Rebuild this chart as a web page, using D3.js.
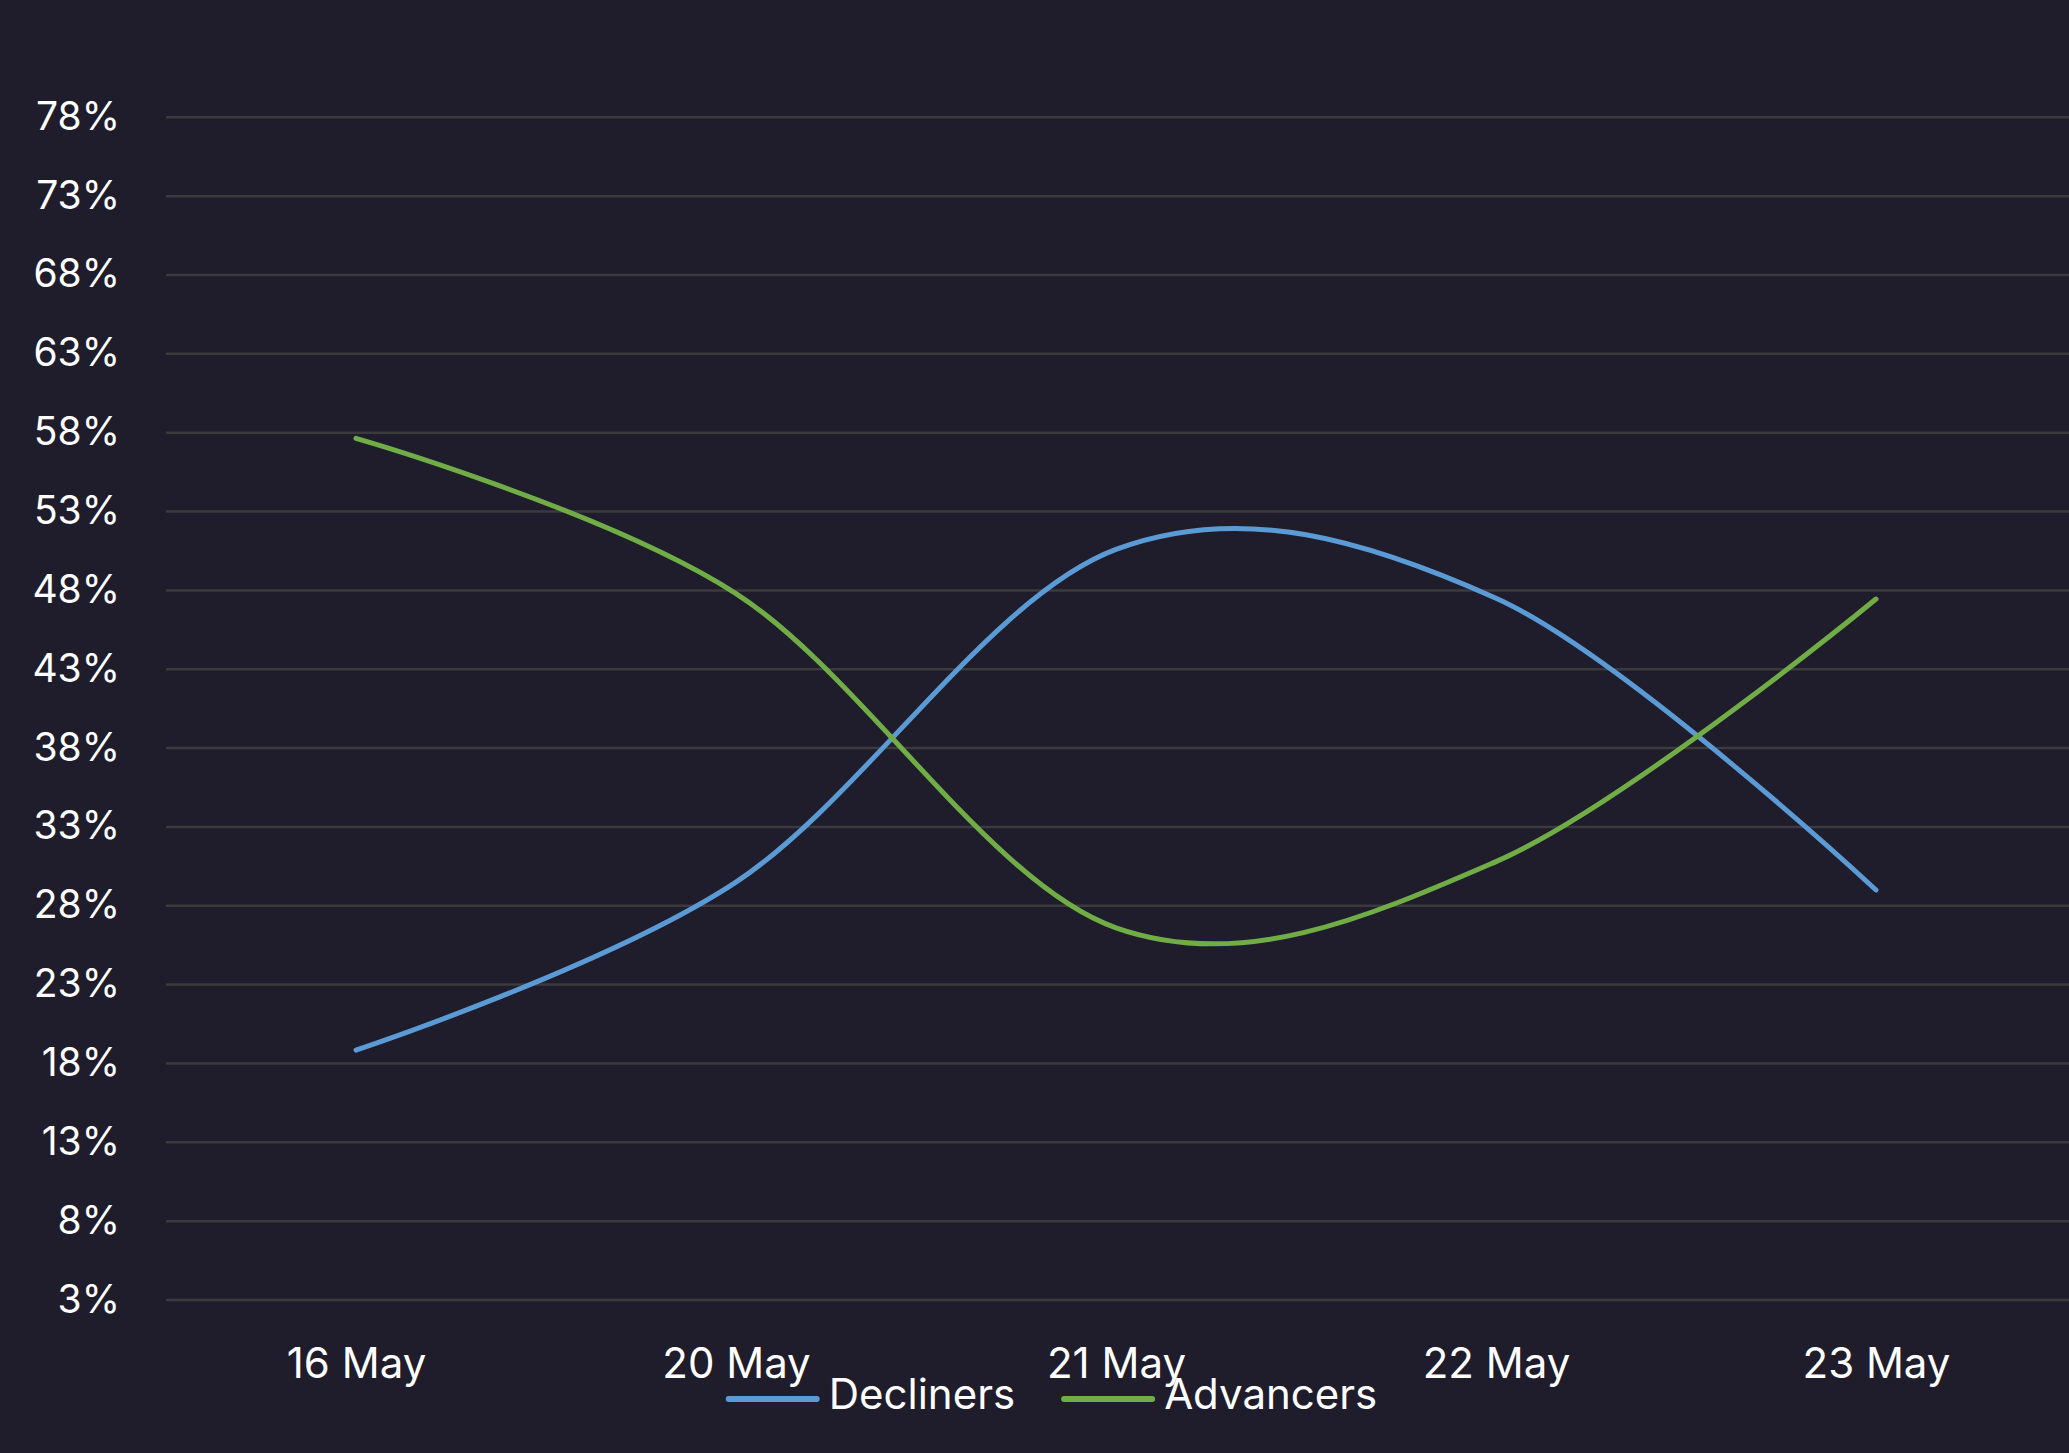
<!DOCTYPE html>
<html>
<head>
<meta charset="utf-8">
<script src="https://cdn.jsdelivr.net/npm/d3@7"></script>
<style>
  html, body { margin: 0; padding: 0; background: #1f1d2b; }
  svg { display: block; }
  text { font-family: Inter, "Open Sans", sans-serif; fill: #ffffff; }
</style>
</head>
<body>
<div id="chart"></div>
<script>
// data
const categories = ['16 May', '20 May', '21 May', '22 May', '23 May'];
const decliners = [18.85, 29.5, 50.6, 47.5, 29.0];
const advancers = [57.64, 47.8, 26.6, 30.8, 47.45];
const yTicks = [3, 8, 13, 18, 23, 28, 33, 38, 43, 48, 53, 58, 63, 68, 73, 78];
const seriesNames = ['Decliners', 'Advancers'];
const seriesColors = ['#5b9bd5', '#70ad47'];

const width = 2069;
const height = 1453;
const plotLeft = 166;
const plotRight = 2066;
const plotTop = 117.3;
const plotBottom = 1300;

const svg = d3.select('#chart')
    .append('svg')
    .attr('width', width)
    .attr('height', height);

svg.append('rect')
    .attr('width', width).attr('height', height)
    .attr('fill', '#1f1d2b');

const x = d3.scalePoint()
    .domain(categories)
    .range([plotLeft, plotRight])
    .padding(0.5);

const y = d3.scaleLinear()
    .domain([3, 78])
    .range([plotBottom, plotTop]);

// horizontal grid lines
const grid = svg.append('g').attr('class', 'grid');
grid.selectAll('line')
    .data(yTicks)
    .join('line')
    .attr('x1', plotLeft).attr('x2', width)
    .attr('y1', d => y(d)).attr('y2', d => y(d))
    .attr('stroke', '#3b3a3d')
    .attr('stroke-width', 2.5);

// y axis labels
const yAxis = svg.append('g')
    .attr('transform', `translate(${120},0)`)
    .call(d3.axisLeft(y).tickValues(yTicks).tickSize(0).tickPadding(0).tickFormat(d => d + '%'));
yAxis.select('.domain').remove();
yAxis.selectAll('text')
    .attr('font-size', 39)
    .attr('font-family', 'Inter, "Open Sans", sans-serif')
    .attr('fill', '#ffffff')
    .attr('dy', 12);

// x axis labels
const xAxis = svg.append('g')
    .attr('transform', `translate(0,${1378})`)
    .call(d3.axisBottom(x).tickSize(0).tickPadding(0));
xAxis.select('.domain').remove();
xAxis.selectAll('text')
    .attr('font-size', 42)
    .attr('font-family', 'Inter, "Open Sans", sans-serif')
    .attr('fill', '#ffffff')
    .attr('y', 0)
    .attr('dy', 0);

// lines
const line = d3.line()
    .x((d, i) => x(categories[i]))
    .y(d => y(d))
    .curve(d3.curveCardinal.tension(0));

[decliners, advancers].forEach((values, idx) => {
    svg.append('path')
        .datum(values)
        .attr('d', line)
        .attr('fill', 'none')
        .attr('stroke', seriesColors[idx])
        .attr('stroke-width', 5)
        .attr('stroke-linecap', 'round')
        .attr('stroke-linejoin', 'round');
});

// legend, centred under the plot, overlapping the x labels like the original
const legend = svg.append('g').attr('class', 'legend');
const swatchLen = 94;
const swatchGap = 9;
const itemGap = 46;
let cursor = 0;
seriesNames.forEach((name, idx) => {
    legend.append('line')
        .attr('x1', cursor + 3).attr('x2', cursor + swatchLen - 3)
        .attr('y1', 1399).attr('y2', 1399)
        .attr('stroke', seriesColors[idx])
        .attr('stroke-width', 6)
        .attr('stroke-linecap', 'round');
    const t = legend.append('text')
        .attr('x', cursor + swatchLen + swatchGap)
        .attr('y', 1409)
        .attr('font-size', 42)
        .text(name);
    cursor += swatchLen + swatchGap + t.node().getComputedTextLength() + itemGap;
});
const legendWidth = cursor - itemGap;
legend.attr('transform', `translate(${1051.5 - legendWidth / 2},0)`);
</script>
</body>
</html>
